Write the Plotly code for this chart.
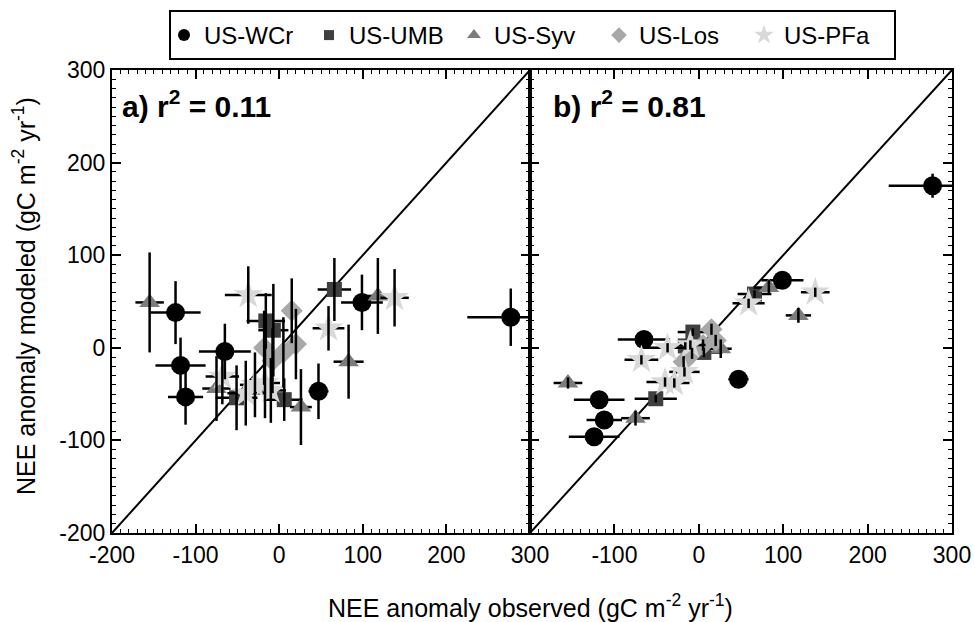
import plotly.graph_objects as go

# ---------------- data ----------------
site_names = ["US-WCr", "US-UMB", "US-Syv", "US-Los", "US-PFa"]

# US-WCr
wcr_obs = [-124, -118, -112, -65, 47, 99, 277]
wcr_obs_err = [30, 30, 21, 31, 12, 25, 52]
wcr_mod_a = [38, -19, -53, -4, -47, 49, 33]
wcr_mod_a_err = [34, 30, 30, 30, 30, 30, 31]
wcr_mod_b = [-96, -56, -78, 9, -34, 73, 175]
wcr_mod_b_err = [6, 5, 8, 5, 5, 5, 13]

# US-UMB
umb_obs = [-51, -16, -7, 6, 66]
umb_obs_err = [25, 23, 18, 22, 20]
umb_mod_a = [-54, 29, 19, -56, 63]
umb_mod_a_err = [35, 30, 50, 23, 34]
umb_mod_b = [-55, 2, 17, -5, 58]
umb_mod_b_err = [4, 4, 4, 5, 4]

# US-Syv
syv_obs = [-155, -75, 26, 83, 118]
syv_obs_err = [17, 17, 13, 18, 15]
syv_mod_a = [49, -44, -64, -15, 56]
syv_mod_a_err = [54, 35, 41, 40, 41]
syv_mod_b = [-38, -76, -1, 65, 35]
syv_mod_b_err = [6, 8, 10, 8, 8]

# US-Los
los_obs = [-18, -8, 5, 15, 20]
los_obs_err = [10, 10, 10, 10, 10]
los_mod_a = [0, -14, -5, 40, 4]
los_mod_a_err = [40, 35, 38, 35, 38]
los_mod_b = [-15, -6, 3, 20, 8]
los_mod_b_err = [6, 6, 6, 6, 6]

# US-PFa
pfa_obs = [-68, -37, -40, -29, -17, -10, 59, 138]
pfa_obs_err = [20, 28, 22, 18, 18, 18, 19, 17]
pfa_mod_a = [-31, 57, -49, -40, -38, -46, 21, 54]
pfa_mod_a_err = [30, 31, 35, 35, 38, 35, 24, 31]
pfa_mod_b = [-13, 0, -37, -38, -26, 3, 48, 60]
pfa_mod_b_err = [5, 5, 5, 5, 5, 5, 5, 5]

one_to_one = [-200, 300]
axis_ticks = [-200, -100, 0, 100, 200, 300]
panel_labels = ["a) r<sup>2</sup> = 0.11", "b) r<sup>2</sup> = 0.81"]

# ---------------- styles ----------------
colors = ["#000000", "#3f3f3f", "#7c7c7c", "#a8a8a8", "#d9d9d9"]
symbols = ["circle", "square", "triangle-up", "diamond", "star"]
sizes = [19, 15, 18, 17, 22]
legend_sizes = [12, 10, 12, 12, 15]

site_data = [
    (wcr_obs, wcr_obs_err, wcr_mod_a, wcr_mod_a_err, wcr_mod_b, wcr_mod_b_err),
    (umb_obs, umb_obs_err, umb_mod_a, umb_mod_a_err, umb_mod_b, umb_mod_b_err),
    (syv_obs, syv_obs_err, syv_mod_a, syv_mod_a_err, syv_mod_b, syv_mod_b_err),
    (los_obs, los_obs_err, los_mod_a, los_mod_a_err, los_mod_b, los_mod_b_err),
    (pfa_obs, pfa_obs_err, pfa_mod_a, pfa_mod_a_err, pfa_mod_b, pfa_mod_b_err),
]

FONT = "Liberation Sans, Arial, Helvetica, sans-serif"
fig = go.Figure()

panels = [("x", "y"), ("x2", "y2")]

# 1:1 lines
for xa, ya in panels:
    fig.add_trace(go.Scatter(x=one_to_one, y=one_to_one, mode="lines",
                             line=dict(color="black", width=2),
                             xaxis=xa, yaxis=ya, showlegend=False, hoverinfo="skip"))

# markers with horizontal error bars
for p, (xa, ya) in enumerate(panels):
    for i, d in enumerate(site_data):
        obs, obs_err = d[0], d[1]
        mod = d[2] if p == 0 else d[4]
        fig.add_trace(go.Scatter(
            x=obs, y=mod, mode="markers", xaxis=xa, yaxis=ya, showlegend=False,
            marker=dict(symbol=symbols[i], size=sizes[i], color=colors[i], line=dict(width=0)),
            error_x=dict(type="data", array=obs_err, color="black", thickness=2.5, width=0),
        ))

# vertical error bars on top
for p, (xa, ya) in enumerate(panels):
    for i, d in enumerate(site_data):
        obs = d[0]
        mod = d[2] if p == 0 else d[4]
        mod_err = d[3] if p == 0 else d[5]
        fig.add_trace(go.Scatter(
            x=obs, y=mod, mode="markers", xaxis=xa, yaxis=ya, showlegend=False,
            marker=dict(size=2, color="black", opacity=0),
            error_y=dict(type="data", array=mod_err, color="black", thickness=2.5, width=0),
        ))

# legend entries
for i, name in enumerate(site_names):
    fig.add_trace(go.Scatter(
        x=[None], y=[None], mode="markers", name=name,
        marker=dict(symbol=symbols[i], size=legend_sizes[i], color=colors[i]),
    ))

ax_common = dict(
    range=[-200, 300], showline=True, linecolor="black", linewidth=2,
    mirror="allticks", ticks="inside", ticklen=9, tickwidth=1.5, tickcolor="black",
    tickvals=axis_ticks, showgrid=False, zeroline=False, automargin=False,
    tickfont=dict(family=FONT, size=23, color="black"),
    minor=dict(dtick=10, ticks="inside", ticklen=4, tickwidth=1, tickcolor="black", showgrid=False),
)

y0, y1 = (622 - 533) / 622, (622 - 70) / 622
xa0, xa1 = 112 / 975, 530 / 975
xb0, xb1 = 530 / 975, 952 / 975

fig.update_layout(
    width=975, height=622,
    margin=dict(l=0, r=0, t=0, b=0, autoexpand=False),
    paper_bgcolor="white", plot_bgcolor="white",
    font=dict(family=FONT, color="black"),
    xaxis=dict(ax_common, domain=[xa0, xa1], anchor="y",
               ticktext=[str(v) for v in axis_ticks], ticklabelstandoff=0),
    yaxis=dict(ax_common, domain=[y0, y1], anchor="x",
               ticktext=[str(v) for v in axis_ticks], ticklabelstandoff=0),
    xaxis2=dict(ax_common, domain=[xb0, xb1], anchor="y2",
                ticktext=[""] + [str(v) for v in axis_ticks[1:]], ticklabelstandoff=0),
    yaxis2=dict(ax_common, domain=[y0, y1], anchor="x2", showticklabels=False),
    showlegend=True,
    legend=dict(orientation="h", x=164 / 975, y=(622 - 13) / 622, xanchor="left", yanchor="top",
                borderwidth=0, bgcolor="rgba(0,0,0,0)",
                font=dict(family=FONT, size=24, color="black"),
                entrywidth=100, entrywidthmode="pixels", itemsizing="trace"),
    shapes=[dict(type="rect", xref="paper", yref="paper",
                 x0=170 / 975, x1=895 / 975, y0=(622 - 59) / 622, y1=(622 - 11) / 622,
                 line=dict(color="black", width=2), layer="below")],
)

fig.add_annotation(text="<b>" + panel_labels[0] + "</b>", xref="paper", yref="paper",
                   x=120 / 975, y=(622 - 104) / 622, xanchor="left", yanchor="middle",
                   showarrow=False, font=dict(family=FONT, size=30, color="black"))
fig.add_annotation(text="<b>" + panel_labels[1] + "</b>", xref="paper", yref="paper",
                   x=551 / 975, y=(622 - 104) / 622, xanchor="left", yanchor="middle",
                   showarrow=False, font=dict(family=FONT, size=30, color="black"))
fig.add_annotation(text="NEE anomaly observed (gC m<sup>-2</sup> yr<sup>-1</sup>)",
                   xref="paper", yref="paper", x=530 / 975, y=(622 - 606) / 622,
                   xanchor="center", yanchor="middle", showarrow=False,
                   font=dict(family=FONT, size=25, color="black"))
fig.add_annotation(text="NEE anomaly modeled (gC m<sup>-2</sup> yr<sup>-1</sup>)",
                   xref="paper", yref="paper", x=24 / 975, y=(622 - 296) / 622,
                   xanchor="center", yanchor="middle", textangle=-90, showarrow=False,
                   font=dict(family=FONT, size=25, color="black"))

fig.write_html("out.html")
